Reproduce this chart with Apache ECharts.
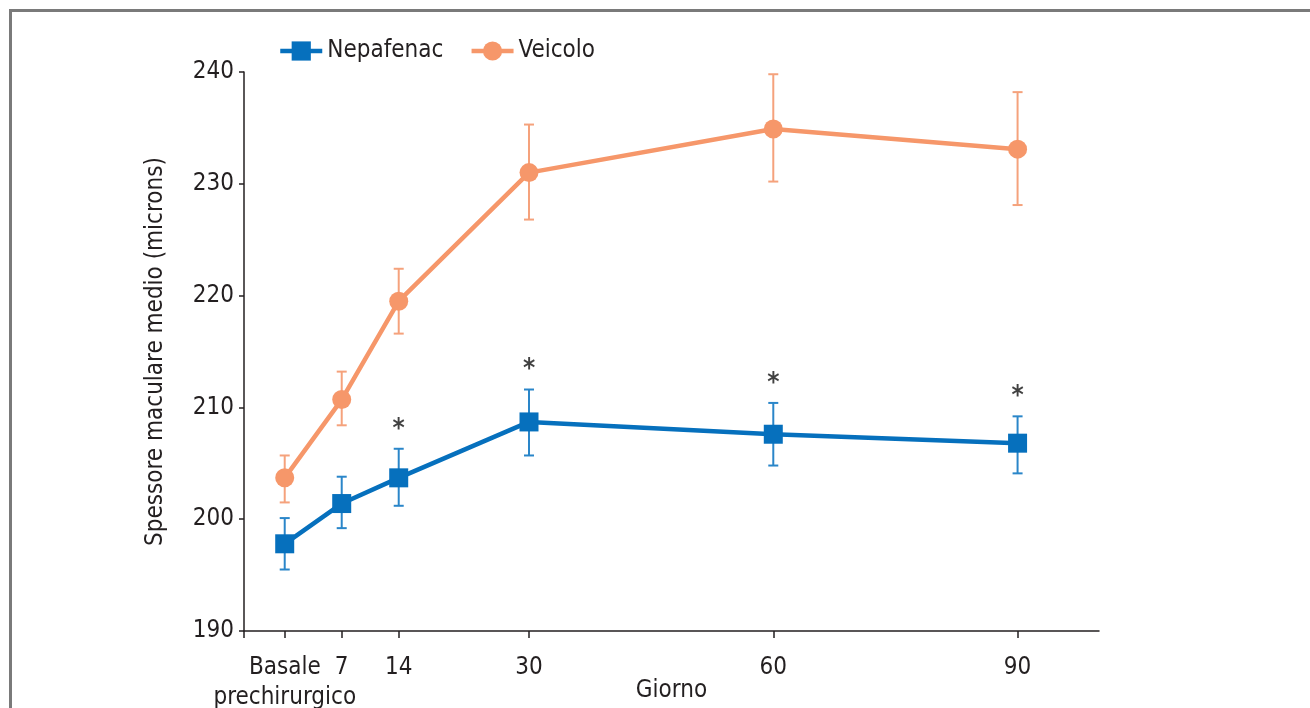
<!DOCTYPE html>
<html>
<head>
<meta charset="utf-8">
<script src="https://cdn.jsdelivr.net/npm/echarts@6/dist/echarts.min.js"></script>
<style>
  html, body { margin: 0; padding: 0; background: #fff; }
  #chart { width: 1310px; height: 708px; }
</style>
</head>
<body>
<div id="chart"></div>
<script>
// giorni di controllo (0 = basale prechirurgico)
var days = [0, 7, 14, 30, 60, 90];
var xTickLabels = ['Basale\nprechirurgico', '7', '14', '30', '60', '90'];
var yTicks = [190, 200, 210, 220, 230, 240];

var nepMean = [197.8, 201.4, 203.7, 208.7, 207.6, 206.8];
var nepLow = [195.5, 199.2, 201.2, 205.7, 204.8, 204.1];
var nepHigh = [200.1, 203.8, 206.3, 211.6, 210.4, 209.2];

var veiMean = [203.7, 210.7, 219.5, 231.0, 234.9, 233.1];
var veiLow = [201.5, 208.4, 216.6, 226.8, 230.2, 228.1];
var veiHigh = [205.7, 213.2, 222.4, 235.3, 239.8, 238.2];

// * = differenza significativa
var significant = [false, false, true, true, true, true];

var BLUE = '#0670BD';
var BLUE_ERR = '#2A86C9';
var ORANGE = '#F6976A';
var ORANGE_ERR = '#F5A27C';
var TXT = '#231F20';
var FONT = "'Liberation Sans Narrow', 'DejaVu Sans Condensed', sans-serif";

// il basale va su un secondo asse x: sull'asse principale la sua etichetta
// a due righe tocca quella del 7 e viene nascosta
var tickPos = days.map(function (d) { return d === 0 ? 0.01 : d; });
var mainTicks = tickPos.slice(1);
var baseTick = [tickPos[0]];

var myChart = echarts.init(document.getElementById('chart'));

function pairs(ys) {
    return days.map(function (d, i) { return [d, ys[i]]; });
}
function errData(low, high) {
    return days.map(function (d, i) { return [d, low[i], high[i]]; });
}
function errSeries(name, low, high, color) {
    return {
        type: 'custom',
        name: name,
        z: 1,
        silent: true,
        renderItem: function (params, api) {
            var x = api.value(0);
            var lo = api.coord([x, api.value(1)]);
            var hi = api.coord([x, api.value(2)]);
            var cap = 5;
            var style = { stroke: color, lineWidth: 2 };
            return {
                type: 'group',
                children: [
                    { type: 'line', shape: { x1: lo[0], y1: lo[1], x2: hi[0], y2: hi[1] }, style: style },
                    { type: 'line', shape: { x1: lo[0] - cap, y1: lo[1], x2: lo[0] + cap, y2: lo[1] }, style: style },
                    { type: 'line', shape: { x1: hi[0] - cap, y1: hi[1], x2: hi[0] + cap, y2: hi[1] }, style: style }
                ]
            };
        },
        data: errData(low, high)
    };
}

function labelFor(v) {
    for (var i = 0; i < tickPos.length; i++) {
        if (Math.abs(tickPos[i] - v) < 0.5) return xTickLabels[i];
    }
    return '';
}

var starData = [];
days.forEach(function (d, i) {
    if (significant[i]) starData.push([d, nepHigh[i]]);
});

var xLabelStyle = {
    margin: 22,
    fontFamily: FONT,
    fontSize: 24,
    lineHeight: 30,
    color: TXT,
    verticalAlign: 'top',
    hideOverlap: false,
    formatter: labelFor
};

var option = {
    animation: false,
    backgroundColor: '#fff',
    textStyle: { fontFamily: FONT },
    graphic: [{
        type: 'rect',
        shape: { x: 10.5, y: 10.5, width: 1400, height: 800 },
        style: { fill: null, stroke: '#7A7A7A', lineWidth: 3 },
        silent: true
    }],
    legend: {
        left: 273,
        top: 34,
        itemWidth: 42,
        itemHeight: 24,
        itemGap: 26,
        data: ['Nepafenac', 'Veicolo'],
        lineStyle: { width: 4.5 },
        textStyle: { fontFamily: FONT, fontSize: 24, color: TXT }
    },
    grid: { left: 244, right: 211, top: 72, bottom: 77, outerBoundsMode: 'none', containLabel: false },
    xAxis: [{
        type: 'value',
        min: -5,
        max: 100,
        name: 'Giorno',
        nameLocation: 'middle',
        nameGap: 48,
        nameMoveOverlap: false,
        nameTextStyle: { fontFamily: FONT, fontSize: 24, color: TXT },
        splitLine: { show: false },
        axisLine: { onZero: false, lineStyle: { color: TXT, width: 1.5 } },
        axisTick: {
            customValues: [-5].concat(mainTicks),
            length: 7,
            lineStyle: { color: TXT, width: 1.5 }
        },
        axisLabel: Object.assign({ customValues: mainTicks }, xLabelStyle)
    }, {
        type: 'value',
        position: 'bottom',
        min: -5,
        max: 100,
        splitLine: { show: false },
        axisLine: { show: false, onZero: false },
        axisTick: {
            customValues: baseTick,
            length: 7,
            lineStyle: { color: TXT, width: 1.5 }
        },
        axisLabel: Object.assign({ customValues: baseTick }, xLabelStyle)
    }],
    yAxis: {
        type: 'value',
        min: 190,
        max: 240,
        interval: 10,
        name: 'Spessore maculare medio (microns)',
        nameLocation: 'middle',
        nameGap: 76,
        nameTextStyle: { fontFamily: FONT, fontSize: 24, color: TXT },
        splitLine: { show: false },
        axisLine: { show: true, onZero: false, lineStyle: { color: TXT, width: 1.5 } },
        axisTick: { show: true, length: 5, lineStyle: { color: TXT, width: 1.5 } },
        axisLabel: {
            margin: 10,
            fontFamily: FONT,
            fontSize: 24,
            color: TXT,
            formatter: function (v) { return yTicks.indexOf(v) >= 0 ? String(v) : ''; }
        }
    },
    series: [
        errSeries('errVei', veiLow, veiHigh, ORANGE_ERR),
        errSeries('errNep', nepLow, nepHigh, BLUE_ERR),
        {
            name: 'Veicolo',
            type: 'line',
            z: 3,
            data: pairs(veiMean),
            symbol: 'circle',
            symbolSize: 19,
            lineStyle: { color: ORANGE, width: 4.5 },
            itemStyle: { color: ORANGE }
        },
        {
            name: 'Nepafenac',
            type: 'line',
            z: 4,
            data: pairs(nepMean),
            symbol: 'rect',
            symbolSize: 19,
            lineStyle: { color: BLUE, width: 4.5 },
            itemStyle: { color: BLUE }
        },
        {
            name: 'stelle',
            type: 'scatter',
            symbolSize: 0,
            silent: true,
            data: starData,
            label: {
                show: true,
                position: 'top',
                distance: 6,
                formatter: '*',
                fontFamily: FONT,
                fontSize: 26,
                fontWeight: 'bold',
                color: '#111'
            }
        }
    ]
};

myChart.setOption(option);
</script>
</body>
</html>
